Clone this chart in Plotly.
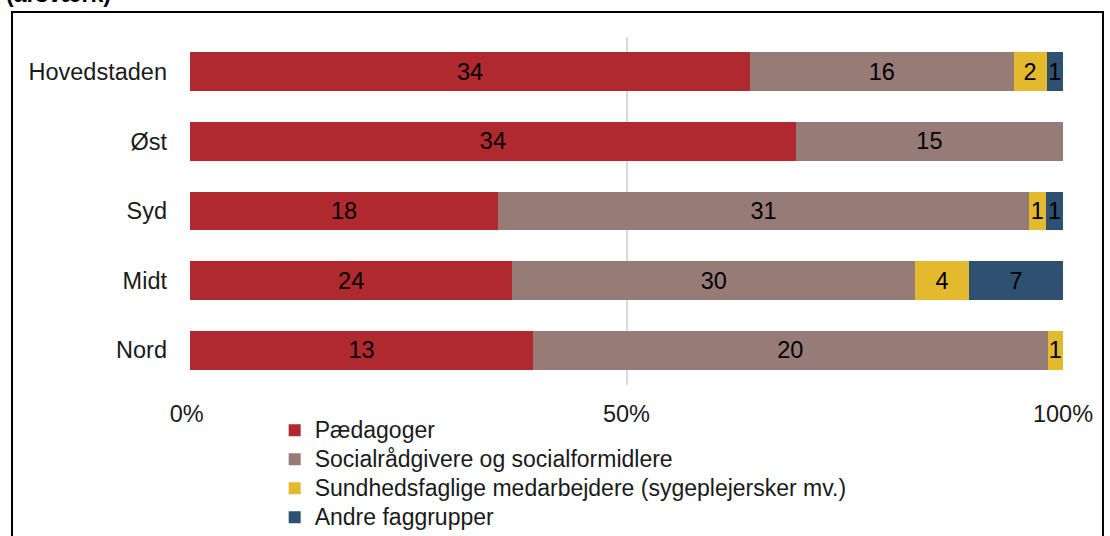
import plotly.graph_objects as go

# regioner (top til bund) og årsværk pr. faggruppe
regioner = ["Hovedstaden", "Øst", "Syd", "Midt", "Nord"]
paedagoger = [34, 34, 18, 24, 13.4]
socialraadgivere = [16, 15, 31, 30, 20.1]
sundhed = [2, 0, 1, 4, 0.6]
andre = [1, 0, 1, 7, 0]

serier = [
    ("Pædagoger", paedagoger, "#B0292F"),
    ("Socialrådgivere og socialformidlere", socialraadgivere, "#977B76"),
    ("Sundhedsfaglige medarbejdere (sygeplejersker mv.)", sundhed, "#E3B92E"),
    ("Andre faggrupper", andre, "#2E5171"),
]

fig = go.Figure()
for navn, vals, farve in serier:
    tekst = ["" if v == 0 else str(round(v)) for v in vals]
    fig.add_trace(go.Bar(
        y=regioner, x=vals, orientation="h",
        # større tekst i legenden uden at øge linjeafstanden
        name='<span style="font-size:23px">' + navn + "</span>",
        marker=dict(color=farve, line=dict(width=0)),
        text=tekst, textposition="inside", insidetextanchor="middle",
        textfont=dict(color="black", size=23.5), textangle=0,
        constraintext="none", hoverinfo="skip",
    ))

fig.update_layout(
    width=1110, height=536,
    barmode="stack", barnorm="percent", bargap=0.44,
    paper_bgcolor="white", plot_bgcolor="white",
    font=dict(family="Liberation Sans, Arial, sans-serif", size=23.5, color="#1a1a1a"),
    margin=dict(l=190, r=47, t=37, b=151, autoexpand=False),
    uniformtext=dict(minsize=23, mode="show"),
    showlegend=True,
    legend=dict(x=0.097, y=-0.074, xanchor="left", yanchor="top",
                font=dict(size=20, color="#1a1a1a"), traceorder="normal",
                bgcolor="rgba(0,0,0,0)", tracegroupgap=0),
    xaxis=dict(range=[0, 100], tickvals=[0, 50, 100], ticktext=["0% ", "50%", "100%"],
               showgrid=True, gridcolor="#D9D9D9", gridwidth=2, zeroline=False,
               showline=False, ticks="", ticklabelstandoff=12),
    yaxis=dict(autorange="reversed", showgrid=False, showline=False, ticks="",
               ticklabelstandoff=22),
    shapes=[dict(type="rect", xref="paper", yref="paper",
                 x0=-0.2039, x1=1.0458, y0=-0.5, y1=1.0718,
                 line=dict(color="black", width=2), fillcolor="rgba(0,0,0,0)",
                 layer="below")],
    annotations=[dict(text="<b>(årsværk)</b>", xref="paper", yref="paper",
                      x=-0.2125, y=1.0805, xanchor="left", yanchor="bottom",
                      showarrow=False, font=dict(size=23, color="black"))],
)

fig.write_html("out.html", config={"displayModeBar": False},
               post_script="document.body.style.margin='0px';")
